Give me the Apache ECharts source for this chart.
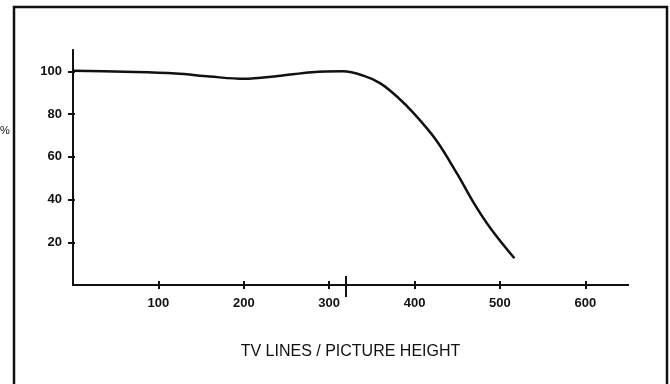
<!DOCTYPE html>
<html>
<head>
<meta charset="utf-8">
<script src="https://cdn.jsdelivr.net/npm/echarts@6/dist/echarts.min.js"></script>
<style>html,body{margin:0;padding:0;background:#fff}#c{width:670px;height:384px}</style>
</head>
<body>
<div id="c"></div>
<script>
var tvLines = [0, 60, 120, 160, 200, 240, 280, 316, 340, 360, 380, 400, 425, 450, 470, 490, 517];
var response = [100.3, 99.8, 99, 97.6, 96.5, 97.8, 99.6, 100, 98, 94.4, 88, 80, 68, 52, 38, 26, 12.5];
var xTicks = [100, 200, 300, 400, 500, 600];
var yTicks = [20, 40, 60, 80, 100];
var markerTick = [320];
var xTitle = 'TV LINES / PICTURE HEIGHT';
var yTitle = '%';

var font = 'Liberation Sans, Arial, sans-serif';
var chart = echarts.init(document.getElementById('c'), null, {renderer: 'canvas'});
var grid = {left: 73, right: 42, top: 50, bottom: 99, containLabel: false, outerBoundsMode: 'none'};
function xa(extra) {
  return Object.assign({
    type: 'value', min: 0, max: 650, interval: 100, position: 'bottom',
    axisLine: {show: true, lineStyle: {color: '#111', width: 2}},
    splitLine: {show: false},
    axisLabel: {show: false},
    axisTick: {show: false}
  }, extra);
}
function ya(extra) {
  return Object.assign({
    type: 'value', min: 0, max: 110, interval: 20, position: 'left',
    axisLine: {show: true, lineStyle: {color: '#111', width: 2}},
    splitLine: {show: false},
    axisLabel: {show: false},
    axisTick: {show: false}
  }, extra);
}
var data = tvLines.map(function (v, i) { return [v, response[i]]; });
chart.setOption({
  animation: false,
  backgroundColor: '#fff',
  grid: grid,
  xAxis: [
    xa({
      name: xTitle, nameLocation: 'middle', nameGap: 59,
      nameTextStyle: {fontFamily: font, fontSize: 16, color: '#111'},
      axisTick: {show: true, customValues: xTicks, length: 4, inside: false, lineStyle: {color: '#111', width: 2}},
      axisLabel: {show: true, customValues: xTicks, margin: 12, fontFamily: font, fontSize: 13, fontWeight: 'bold', color: '#111'}
    }),
    xa({axisTick: {show: true, customValues: xTicks, length: 4, inside: true, lineStyle: {color: '#111', width: 2}}}),
    xa({axisTick: {show: true, customValues: markerTick, length: 12, inside: false, lineStyle: {color: '#111', width: 2}}}),
    xa({axisTick: {show: true, customValues: markerTick, length: 9, inside: true, lineStyle: {color: '#111', width: 2}}})
  ],
  yAxis: [
    ya({
      axisTick: {show: true, customValues: yTicks, length: 5, inside: false, lineStyle: {color: '#111', width: 2}},
      axisLabel: {show: true, customValues: yTicks, margin: 11, fontFamily: font, fontSize: 13, fontWeight: 'bold', color: '#111'}
    }),
    ya({axisTick: {show: true, customValues: yTicks, length: 2, inside: true, lineStyle: {color: '#111', width: 2}}})
  ],
  series: [{
    type: 'line', xAxisIndex: 0, yAxisIndex: 0,
    data: data, smooth: 0.35, showSymbol: false, symbol: 'none',
    lineStyle: {color: '#111', width: 2.5}
  }],
  graphic: [{
    type: 'rect', shape: {x: 14, y: 7, width: 653, height: 400},
    style: {fill: 'none', stroke: '#111', lineWidth: 2.5}, silent: true
  }, {
    type: 'text', left: 0, top: 125,
    style: {text: yTitle, fontFamily: font, fontSize: 11, fill: '#111'}
  }]
});
</script>
</body>
</html>
